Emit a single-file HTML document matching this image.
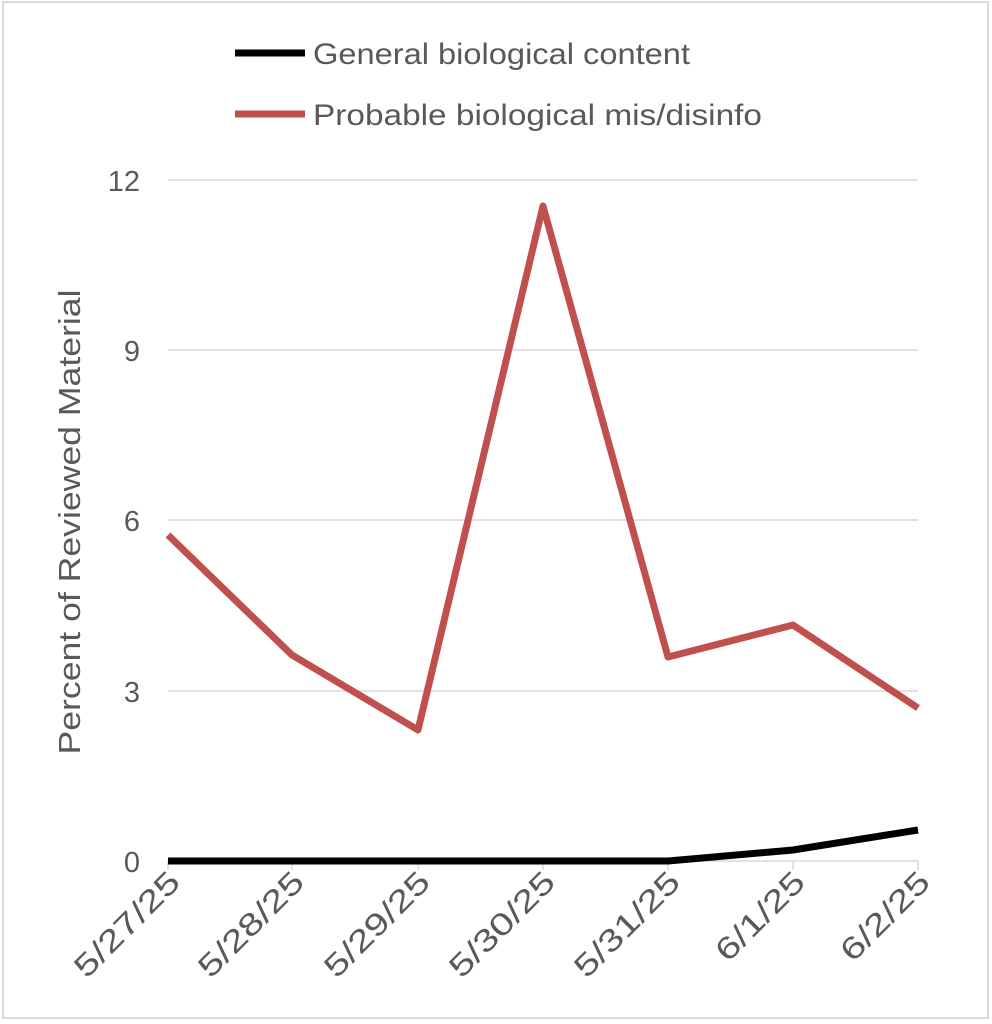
<!DOCTYPE html>
<html><head><style>body{margin:0;background:#fff}svg{display:block}</style></head>
<body>
<svg width="992" height="1024" xmlns="http://www.w3.org/2000/svg" font-family="Liberation Sans, sans-serif">
<rect x="3" y="2" width="985" height="1016" fill="#fff" stroke="#d9d9d9" stroke-width="2"/>
<g stroke="#d9d9d9" stroke-width="1.5">
<line x1="168" y1="180" x2="918" y2="180"/>
<line x1="168" y1="350" x2="918" y2="350"/>
<line x1="168" y1="520" x2="918" y2="520"/>
<line x1="168" y1="691" x2="918" y2="691"/>
<line x1="168" y1="861" x2="918" y2="861"/>
<line x1="168" y1="861" x2="168" y2="870"/><line x1="292" y1="861" x2="292" y2="870"/>
<line x1="418" y1="861" x2="418" y2="870"/><line x1="543" y1="861" x2="543" y2="870"/>
<line x1="668" y1="861" x2="668" y2="870"/><line x1="793" y1="861" x2="793" y2="870"/>
<line x1="918" y1="861" x2="918" y2="870"/>
</g>
<g fill="#595959" font-size="29" text-anchor="end">
<text x="140" y="191">12</text><text x="140" y="361">9</text><text x="140" y="531">6</text><text x="140" y="702">3</text><text x="140" y="872">0</text>
</g>
<text transform="translate(80,522) rotate(-90)" fill="#595959" font-size="31" text-anchor="middle" textLength="465" lengthAdjust="spacingAndGlyphs">Percent of Reviewed Material</text>
<g fill="#595959" font-size="31" text-anchor="end">
<text transform="translate(182,884) rotate(-45)" textLength="135" lengthAdjust="spacingAndGlyphs">5/27/25</text>
<text transform="translate(306,884) rotate(-45)" textLength="135" lengthAdjust="spacingAndGlyphs">5/28/25</text>
<text transform="translate(432,884) rotate(-45)" textLength="135" lengthAdjust="spacingAndGlyphs">5/29/25</text>
<text transform="translate(557,884) rotate(-45)" textLength="135" lengthAdjust="spacingAndGlyphs">5/30/25</text>
<text transform="translate(682,884) rotate(-45)" textLength="135" lengthAdjust="spacingAndGlyphs">5/31/25</text>
<text transform="translate(807,884) rotate(-45)" textLength="112" lengthAdjust="spacingAndGlyphs">6/1/25</text>
<text transform="translate(932,884) rotate(-45)" textLength="112" lengthAdjust="spacingAndGlyphs">6/2/25</text>
</g>
<polyline fill="none" stroke="#000" stroke-width="7" points="168,861 292,861 418,861 543,861 668,861 793,850 918,830"/>
<polyline fill="none" stroke="#c0504d" stroke-width="7" stroke-linejoin="round" points="168,535 292,655 418,730 543,206 668,657 793,625 918,708"/>
<line x1="235" y1="53" x2="305" y2="53" stroke="#000" stroke-width="7"/>
<line x1="235" y1="114" x2="305" y2="114" stroke="#c0504d" stroke-width="7"/>
<g fill="#595959" font-size="30">
<text x="313" y="64" textLength="377" lengthAdjust="spacingAndGlyphs">General biological content</text>
<text x="313" y="125" textLength="449" lengthAdjust="spacingAndGlyphs">Probable biological mis/disinfo</text>
</g>
</svg>
</body></html>
